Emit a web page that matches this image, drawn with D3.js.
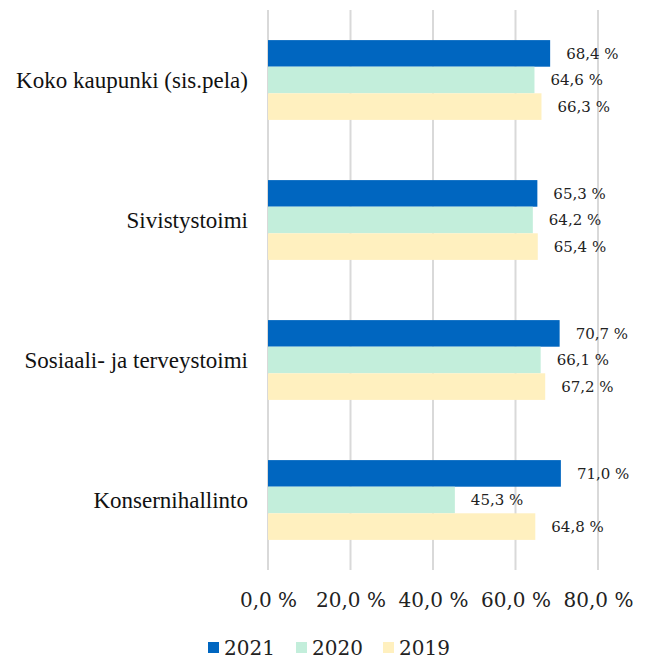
<!DOCTYPE html>
<html><head><meta charset="utf-8">
<script src="https://cdn.jsdelivr.net/npm/d3@7"></script>
<style>body{margin:0;background:#fff}svg{display:block}</style>
</head><body><div id="chart"></div>
<script>
const categories = ["Koko kaupunki (sis.pela)", "Sivistystoimi", "Sosiaali- ja terveystoimi", "Konsernihallinto"];
const seriesNames = ["2021", "2020", "2019"];
const values2021 = [68.4, 65.3, 70.7, 71.0];
const values2020 = [64.6, 64.2, 66.1, 45.3];
const values2019 = [66.3, 65.4, 67.2, 64.8];
const tickValues = [0, 20, 40, 60, 80];
const colors = ["#0066C0", "#C3EEDB", "#FFF0BF"];

const series = [values2021, values2020, values2019];
const W = 646, H = 660;
const m = {left: 268, right: 48, top: 10, bottom: 90};
const catFont = "'Liberation Serif', 'Times New Roman', serif";
const numFont = "'DejaVu Serif', serif";
const fmt = v => v.toFixed(1).replace(".", ",") + " %";

const svg = d3.select("#chart").append("svg").attr("width", W).attr("height", H);
const x = d3.scaleLinear().domain([0, 80]).range([m.left, W - m.right]);
const y0 = d3.scaleBand().domain(categories).range([m.top, H - m.bottom]).paddingInner(0.43).paddingOuter(0.215);
const y1 = d3.scaleBand().domain(seriesNames).range([0, y0.bandwidth()]);

// gridlines
svg.append("g").selectAll("line").data(tickValues).join("line")
  .attr("x1", d => x(d)).attr("x2", d => x(d))
  .attr("y1", m.top).attr("y2", H - m.bottom)
  .attr("stroke", "#D9D9D9").attr("stroke-width", 2);

// bars
const g = svg.append("g").selectAll("g").data(categories).join("g")
  .attr("transform", c => `translate(0,${y0(c)})`);
g.selectAll("rect").data((c, i) => series.map((s, k) => ({k, v: s[i]}))).join("rect")
  .attr("x", x(0)).attr("y", d => y1(seriesNames[d.k]))
  .attr("width", d => x(d.v) - x(0)).attr("height", y1.bandwidth())
  .attr("fill", d => colors[d.k]);
g.selectAll("text.val").data((c, i) => series.map((s, k) => ({k, v: s[i]}))).join("text")
  .attr("class", "val")
  .attr("x", d => x(d.v) + 16).attr("y", d => y1(seriesNames[d.k]) + y1.bandwidth() / 2)
  .attr("dy", "0.35em").attr("font-family", numFont).attr("font-size", 15).attr("fill", "#222")
  .text(d => fmt(d.v));

// category labels
svg.append("g").selectAll("text").data(categories).join("text")
  .attr("x", m.left - 20).attr("y", c => y0(c) + y0.bandwidth() / 2)
  .attr("dy", "0.35em").attr("text-anchor", "end")
  .attr("font-family", catFont).attr("font-size", 23).attr("fill", "#111")
  .text(c => c);

// x axis
const ax = svg.append("g").attr("transform", `translate(0,${H - m.bottom})`)
  .call(d3.axisBottom(x).tickValues(tickValues).tickSize(0).tickPadding(23).tickFormat(fmt));
ax.select(".domain").remove();
ax.selectAll("text").attr("font-family", numFont).attr("font-size", 20).attr("fill", "#222");

// legend
const legX = [208, 296, 383];
const leg = svg.append("g").selectAll("g").data(seriesNames).join("g")
  .attr("transform", (d, i) => `translate(${legX[i]},${H - 12})`);
leg.append("rect").attr("x", 0).attr("y", -6).attr("width", 11).attr("height", 11)
  .attr("fill", (d, i) => colors[i]);
leg.append("text").attr("x", 16).attr("y", 0).attr("dy", "0.35em")
  .attr("font-family", numFont).attr("font-size", 20).attr("fill", "#222").text(d => d);
</script></body></html>
